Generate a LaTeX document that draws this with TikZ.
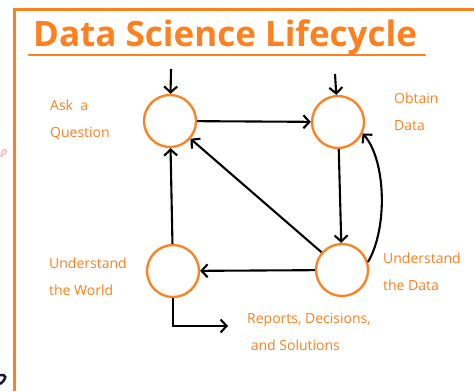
\documentclass[tikz,border=0pt]{standalone}
\usepackage{fontspec}
\setmainfont{Open Sans}
\usetikzlibrary{arrows.meta}
\definecolor{hand}{RGB}{255,128,30}
\definecolor{pinkmark}{RGB}{250,190,190}
\definecolor{navymark}{RGB}{20,20,80}
\begin{document}
\begin{tikzpicture}[x=1pt,y=-1pt,
  state/.style={circle, draw=hand, line width=2.3pt, minimum size=52pt, inner sep=0pt},
  flow/.style={draw=black, line width=2.1pt, -{Straight Barb[length=6pt,width=13pt,line width=2.1pt]}},
  lbl/.style={text=hand, font=\fontsize{14}{27}\selectfont, align=left, anchor=base west, inner sep=0pt},
  frame/.style={draw=hand, line width=3pt}]
\useasboundingbox (0,0) rectangle (474,391);
% frame
\draw[frame] (14,391) -- (14,9) -- (474,9);
% stray marks
\draw[pinkmark, line width=1.5pt] (0,156) .. controls (4,155) and (8,152) .. (6,150) .. controls (4,148) and (0,152) .. (2,157);
\draw[navymark, line width=2.5pt] (0,375) .. controls (6,374) and (8,378) .. (0,384);
% title
\node[text=hand, font=\bfseries\fontsize{35}{36}\selectfont, anchor=base west, inner sep=0pt] (title) at (33,46) {Data Science Lifecycle};
\draw[hand, line width=2.5pt, line cap=round] (29,55) -- (425,55);
% circles
\node[state] (ask) at (170,121) {};
\node[state] (obt) at (338,122) {};
\node[state] (wor) at (173,271) {};
\node[state] (dat) at (342,270) {};
\coordinate (askin) at (171,69);
\coordinate (obtin) at (335,74);
\coordinate (outend) at (228,326);
% connectors
\draw[flow] (askin) -- (ask);
\draw[flow] (obtin) -- (obt);
\draw[flow] (ask) -- (obt);
\draw[flow] (obt) -- (dat);
\draw[flow] (dat) -- (ask);
\draw[flow] (dat) -- (wor);
\draw[flow] (wor) -- (ask);
\draw[flow] (wor.south) |- (outend);
\draw[flow] (dat.17) .. controls (388,228) and (386,160) .. (obt.-25);
% labels (base = last line)
\node[lbl] (lask) at (50,137) {Ask\ \ a\\Question};
\node[lbl] (lobt) at (394,130) {Obtain\\Data};
\node[lbl] (lwor) at (49,295) {Understand\\the World};
\node[lbl] (ldat) at (383,290) {Understand\\the Data};
\node[lbl] (lout) at (247,350) {Reports, Decisions,\\\ and Solutions};
\end{tikzpicture}
\end{document}
